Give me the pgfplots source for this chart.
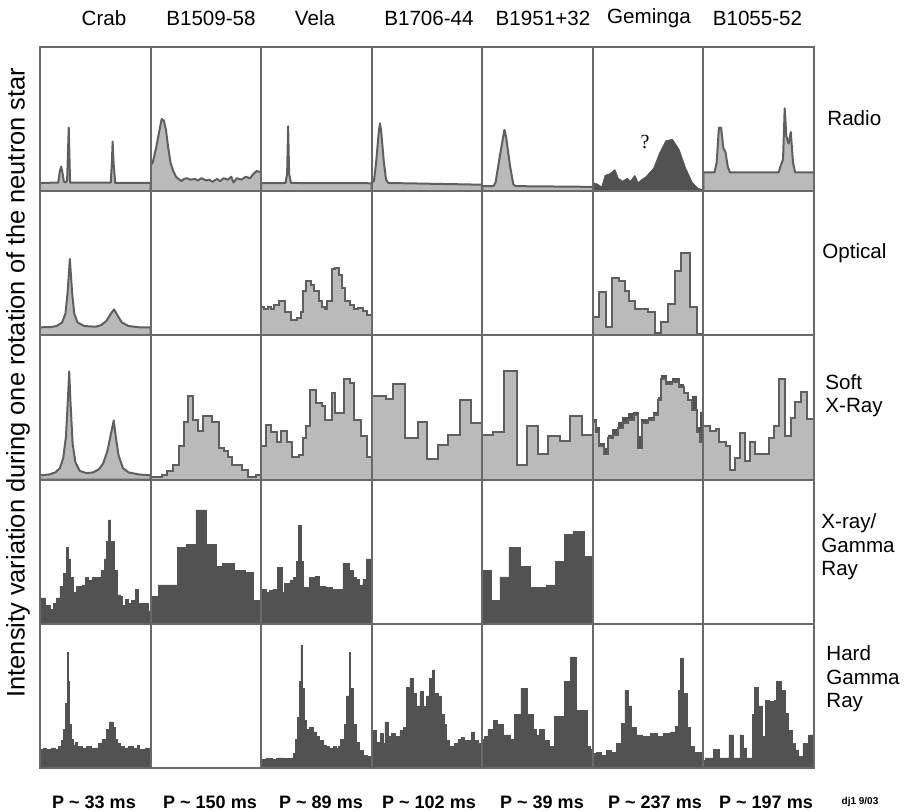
\documentclass[border=0pt]{standalone}
\usepackage{pgfplots}
\pgfplotsset{compat=1.18}
\usepackage{fontspec}
\setmainfont{Liberation Sans}
\newfontfamily\seriffont{Liberation Serif}
\definecolor{lightfill}{RGB}{186,186,186}
\definecolor{outline}{RGB}{95,95,95}
\definecolor{darkfill}{RGB}{82,82,82}
\definecolor{framegray}{RGB}{105,105,105}
\pgfplotsset{
 panel/.style={width=55.286pt,height=72.1pt,scale only axis,anchor=north west,
   xmin=0,xmax=1,ymin=0,ymax=1,ticks=none,axis on top,no marks,
   axis line style={framegray,line width=1pt}},
 pos/.style 2 args={at={({20pt+#1*55.286pt},{-23.5pt-#2*72.1pt})}},
 lc/.style={fill=lightfill,draw=outline,line width=1pt,line join=round},
 lh/.style={const plot,fill=lightfill,draw=outline,line width=1pt},
 dh/.style={const plot,fill=darkfill,draw=darkfill,line width=0.3pt},
 dc/.style={fill=darkfill,draw=darkfill,line width=0.3pt,line join=round},
}
\begin{document}
\begin{tikzpicture}
\path[use as bounding box] (0,0) rectangle (453.5pt,-406pt);
% ---------------- Row 0: Radio
\begin{axis}[panel,pos={0}{0}]
\addplot[lc] coordinates {(0,.057)(.165,.06)(.18,.14)(.192,.17)(.205,.12)(.215,.07)(.225,.06)(.245,.07)(.26,.44)(.272,.06)(.64,.06)(.65,.2)(.657,.345)(.665,.2)(.68,.057)(1,.057)} \closedcycle;
\end{axis}
\begin{axis}[panel,pos={1}{0}]
\addplot[lc] coordinates {(0,.18)(.02,.2)(.05,.3)(.08,.42)(.1,.5)(.12,.49)(.14,.42)(.16,.3)(.18,.2)(.2,.15)(.23,.1)(.26,.08)(.28,.07)(.3,.085)(.33,.09)(.36,.08)(.4,.085)(.43,.075)(.46,.09)(.5,.075)(.53,.08)(.56,.065)(.6,.085)(.63,.07)(.66,.09)(.7,.08)(.73,.1)(.75,.06)(.78,.09)(.82,.08)(.86,.1)(.9,.09)(.93,.12)(.96,.14)(1,.13)} \closedcycle;
\end{axis}
\begin{axis}[panel,pos={2}{0}]
\addplot[lc] coordinates {(0,.055)(.22,.057)(.235,.12)(.244,.45)(.253,.12)(.27,.057)(1,.055)} \closedcycle;
\end{axis}
\begin{axis}[panel,pos={3}{0}]
\addplot[lc] coordinates {(0,.057)(.02,.07)(.04,.2)(.065,.42)(.075,.47)(.085,.42)(.11,.2)(.13,.08)(.15,.057)(1,.045)} \closedcycle;
\end{axis}
\begin{axis}[panel,pos={4}{0}]
\addplot[lc] coordinates {(0,.035)(.1,.035)(.12,.06)(.16,.25)(.2,.425)(.215,.38)(.25,.18)(.28,.05)(.3,.035)(1,.03)} \closedcycle;
\end{axis}
\begin{axis}[panel,pos={5}{0}]
\addplot[dc] coordinates {(0,.06)(.04,.05)(.08,.03)(.11,.11)(.15,.12)(.2,.15)(.23,.09)(.27,.07)(.31,.09)(.34,.07)(.38,.11)(.41,.06)(.44,.08)(.48,.1)(.55,.16)(.6,.26)(.66,.35)(.72,.36)(.78,.29)(.84,.16)(.9,.06)(.95,.02)(1,.01)} \closedcycle;
\end{axis}
\begin{axis}[panel,pos={6}{0}]
\addplot[lc] coordinates {(0,.13)(.1,.13)(.12,.2)(.14,.44)(.16,.44)(.18,.3)(.2,.27)(.22,.17)(.24,.13)(.68,.13)(.7,.18)(.72,.22)(.735,.575)(.75,.38)(.77,.33)(.79,.41)(.81,.2)(.83,.13)(1,.13)} \closedcycle;
\end{axis}
% ---------------- Row 1: Optical
\begin{axis}[panel,pos={0}{1}]
\addplot[lc] coordinates {(0,.056)(.1,.058)(.15,.065)(.2,.09)(.23,.15)(.25,.3)(.27,.53)(.29,.3)(.31,.15)(.34,.09)(.4,.065)(.5,.06)(.55,.07)(.6,.1)(.64,.15)(.67,.18)(.7,.14)(.74,.09)(.8,.065)(.9,.056)(1,.056)} \closedcycle;
\end{axis}
\begin{axis}[panel,pos={1}{1}]
\end{axis}
\begin{axis}[panel,pos={2}{1}]
\addplot[lh] coordinates {(0,.2)(.03,.18)(.06,.2)(.09,.18)(.12,.21)(.16,.24)(.22,.16)(.27,.11)(.32,.12)(.36,.16)(.38,.31)(.41,.38)(.45,.35)(.48,.31)(.52,.24)(.55,.2)(.58,.18)(.6,.24)(.64,.46)(.67,.47)(.7,.42)(.73,.33)(.76,.24)(.8,.21)(.84,.18)(.88,.19)(.92,.17)(.96,.14)(1,.14)} \closedcycle;
\end{axis}
\begin{axis}[panel,pos={3}{1}]
\end{axis}
\begin{axis}[panel,pos={4}{1}]
\end{axis}
\begin{axis}[panel,pos={5}{1}]
\addplot[lh] coordinates {(0,.13)(.055,.3)(.12,.06)(.175,.4)(.24,.38)(.29,.31)(.33,.24)(.38,.18)(.5,.16)(.56,.015)(.62,.09)(.68,.22)(.74,.45)(.8,.57)(.88,.2)(.945,.01)(1,.01)} \closedcycle;
\end{axis}
\begin{axis}[panel,pos={6}{1}]
\end{axis}
% ---------------- Row 2: Soft X-ray
\begin{axis}[panel,pos={0}{2}]
\addplot[lc] coordinates {(0,.03)(.08,.035)(.14,.05)(.18,.08)(.21,.15)(.235,.3)(.255,.6)(.264,.75)(.275,.55)(.295,.25)(.32,.12)(.36,.06)(.42,.045)(.48,.05)(.53,.07)(.57,.11)(.61,.2)(.645,.33)(.667,.41)(.685,.3)(.71,.17)(.75,.08)(.8,.05)(.9,.035)(1,.03)} \closedcycle;
\end{axis}
\begin{axis}[panel,pos={1}{2}]
\addplot[lh] coordinates {(0,.02)(.1,.03)(.15,.06)(.2,.1)(.26,.23)(.3,.4)(.34,.58)(.385,.41)(.43,.34)(.47,.44)(.56,.4)(.62,.22)(.66,.2)(.7,.16)(.74,.1)(.79,.1)(.83,.07)(.88,.015)(.955,.035)(1,.035)} \closedcycle;
\end{axis}
\begin{axis}[panel,pos={2}{2}]
\addplot[lh] coordinates {(0,.23)(.04,.38)(.09,.33)(.14,.26)(.18,.34)(.23,.26)(.28,.16)(.34,.17)(.38,.29)(.41,.37)(.44,.62)(.5,.53)(.55,.51)(.58,.41)(.64,.6)(.67,.46)(.72,.46)(.75,.7)(.8,.67)(.84,.41)(.9,.3)(.96,.16)(1,.16)} \closedcycle;
\end{axis}
\begin{axis}[panel,pos={3}{2}]
\addplot[lh] coordinates {(0,.58)(.13,.56)(.19,.66)(.3,.29)(.42,.4)(.5,.14)(.6,.24)(.69,.31)(.8,.55)(.9,.39)(1,.39)} \closedcycle;
\end{axis}
\begin{axis}[panel,pos={4}{2}]
\addplot[lh] coordinates {(0,.31)(.1,.33)(.2,.75)(.31,.1)(.4,.37)(.5,.18)(.59,.3)(.7,.265)(.79,.44)(.9,.31)(1,.31)} \closedcycle;
\end{axis}
\begin{axis}[panel,pos={5}{2}]
\addplot[dh] coordinates {(0,.42)(.03,.36)(.06,.25)(.1,.22)(.14,.31)(.18,.35)(.23,.4)(.27,.43)(.32,.46)(.37,.47)(.41,.3)(.44,.42)(.5,.43)(.55,.47)(.59,.57)(.62,.72)(.66,.68)(.72,.7)(.78,.66)(.82,.6)(.84,.59)(.86,.55)(.9,.58)(.94,.36)(.97,.47)(1,.47)} \closedcycle;
\addplot[lh] coordinates {(0,.4)(.03,.33)(.06,.23)(.1,.18)(.14,.29)(.18,.31)(.23,.36)(.27,.39)(.32,.41)(.37,.45)(.41,.22)(.44,.39)(.5,.41)(.55,.45)(.59,.55)(.62,.7)(.66,.66)(.72,.68)(.78,.64)(.82,.6)(.86,.55)(.9,.48)(.94,.33)(.97,.26)(1,.26)} \closedcycle;
\end{axis}
\begin{axis}[panel,pos={6}{2}]
\addplot[lh] coordinates {(0,.37)(.06,.34)(.11,.35)(.14,.26)(.2,.23)(.24,.07)(.29,.15)(.33,.32)(.38,.13)(.42,.26)(.47,.18)(.59,.29)(.64,.37)(.68,.7)(.74,.3)(.79,.43)(.83,.54)(.88,.61)(.94,.42)(1,.42)} \closedcycle;
\end{axis}
% ---------------- Row 3: X-ray / Gamma
\begin{axis}[panel,pos={0}{3}]
\addplot[dh] coordinates {(0,.18)(.015,.18)(.045,.125)(.09,.1)(.12,.14)(.15,.18)(.18,.26)(.21,.35)(.24,.53)(.26,.45)(.27,.32)(.3,.22)(.33,.26)(.38,.27)(.41,.32)(.44,.3)(.47,.32)(.52,.32)(.55,.37)(.58,.45)(.6,.57)(.62,.72)(.64,.57)(.67,.37)(.7,.2)(.73,.19)(.74,.125)(.77,.17)(.8,.14)(.83,.16)(.86,.24)(.89,.14)(.92,.14)(.95,.14)(.98,.09)(1,.09)} \closedcycle;
\end{axis}
\begin{axis}[panel,pos={1}{3}]
\addplot[dh] coordinates {(0,.19)(.07,.27)(.24,.53)(.32,.55)(.41,.79)(.5,.55)(.59,.4)(.65,.42)(.76,.37)(.86,.355)(.93,.16)(1,.16)} \closedcycle;
\end{axis}
\begin{axis}[panel,pos={2}{3}]
\addplot[dh] coordinates {(0,.24)(.045,.22)(.076,.23)(.106,.24)(.136,.17)(.15,.39)(.19,.22)(.2,.11)(.21,.28)(.26,.3)(.29,.32)(.32,.435)(.34,.68)(.365,.435)(.38,.25)(.44,.32)(.49,.33)(.53,.26)(.58,.25)(.61,.255)(.64,.24)(.69,.24)(.74,.42)(.8,.37)(.83,.32)(.86,.31)(.89,.27)(.92,.31)(.95,.45)(1,.45)} \closedcycle;
\end{axis}
\begin{axis}[panel,pos={3}{3}]
\end{axis}
\begin{axis}[panel,pos={4}{3}]
\addplot[dh] coordinates {(0,.37)(.08,.16)(.16,.325)(.24,.53)(.34,.4)(.43,.25)(.58,.27)(.66,.435)(.74,.62)(.82,.64)(.92,.47)(1,.47)} \closedcycle;
\end{axis}
\begin{axis}[panel,pos={5}{3}]
\end{axis}
\begin{axis}[panel,pos={6}{3}]
\end{axis}
% ---------------- Row 4: Hard Gamma
\begin{axis}[panel,pos={0}{4}]
\addplot[dh] coordinates {(0,.13)(.03,.14)(.06,.13)(.1,.14)(.14,.13)(.17,.15)(.19,.19)(.21,.27)(.23,.45)(.245,.8)(.255,.6)(.265,.3)(.28,.2)(.3,.16)(.32,.18)(.34,.15)(.38,.14)(.42,.15)(.46,.14)(.5,.14)(.53,.17)(.56,.2)(.6,.27)(.63,.32)(.66,.28)(.68,.2)(.7,.17)(.73,.15)(.76,.14)(.8,.15)(.84,.14)(.88,.16)(.9,.13)(.95,.14)(1,.14)} \closedcycle;
\end{axis}
\begin{axis}[panel,pos={1}{4}]
\end{axis}
\begin{axis}[panel,pos={2}{4}]
\addplot[dh] coordinates {(0,.06)(.05,.065)(.1,.06)(.14,.07)(.2,.065)(.26,.07)(.29,.1)(.31,.2)(.33,.35)(.345,.6)(.36,.85)(.375,.55)(.39,.33)(.41,.27)(.44,.28)(.47,.25)(.5,.22)(.53,.19)(.56,.16)(.59,.15)(.62,.14)(.65,.15)(.68,.14)(.7,.15)(.72,.2)(.75,.3)(.77,.5)(.795,.8)(.81,.55)(.83,.3)(.86,.18)(.89,.12)(.92,.09)(.96,.08)(1,.08)} \closedcycle;
\end{axis}
\begin{axis}[panel,pos={3}{4}]
\addplot[dh] coordinates {(0,.26)(.015,.26)(.045,.18)(.075,.24)(.105,.17)(.12,.32)(.15,.22)(.18,.24)(.21,.22)(.255,.26)(.285,.28)(.315,.56)(.345,.62)(.375,.52)(.405,.43)(.435,.53)(.465,.43)(.495,.5)(.525,.62)(.55,.68)(.57,.52)(.6,.5)(.63,.37)(.66,.3)(.675,.19)(.705,.15)(.75,.17)(.78,.2)(.81,.21)(.84,.19)(.87,.19)(.9,.25)(.93,.19)(.96,.17)(.99,.2)(1,.2)} \closedcycle;
\end{axis}
\begin{axis}[panel,pos={4}{4}]
\addplot[dh] coordinates {(0,.2)(.02,.22)(.05,.27)(.1,.33)(.14,.3)(.19,.23)(.25,.2)(.29,.37)(.35,.55)(.41,.37)(.46,.27)(.49,.23)(.52,.27)(.56,.19)(.61,.15)(.65,.36)(.74,.6)(.8,.77)(.85,.4)(.95,.15)(.98,.13)(1,.13)} \closedcycle;
\end{axis}
\begin{axis}[panel,pos={5}{4}]
\addplot[dh] coordinates {(0,.1)(.03,.11)(.075,.09)(.12,.12)(.17,.11)(.21,.17)(.26,.31)(.29,.54)(.32,.43)(.35,.28)(.39,.23)(.45,.22)(.52,.24)(.58,.22)(.64,.24)(.7,.25)(.745,.29)(.775,.54)(.795,.76)(.82,.52)(.85,.28)(.88,.15)(.92,.11)(.98,.1)(1,.1)} \closedcycle;
\end{axis}
\begin{axis}[panel,pos={6}{4}]
\addplot[dh] coordinates {(0,.05)(.015,.07)(.09,.13)(.14,.07)(.23,.23)(.27,.07)(.33,.23)(.36,.14)(.39,.07)(.44,.37)(.46,.56)(.5,.43)(.53,.22)(.56,.47)(.6,.46)(.64,.47)(.66,.6)(.7,.54)(.74,.38)(.77,.26)(.8,.17)(.83,.125)(.86,.08)(.9,.17)(.95,.23)(1,.23)} \closedcycle;
\end{axis}
% ---------------- Text
\begin{scope}[every node/.style={font=\fontsize{10.3}{12}\selectfont}]
\node at (52pt,-9pt) {Crab};
\node at (105.5pt,-9pt) {B1509-58};
\node at (157.5pt,-9pt) {Vela};
\node at (214.5pt,-9pt) {B1706-44};
\node at (271.5pt,-9pt) {B1951+32};
\node at (324.5pt,-9pt) {Geminga};
\node at (378.75pt,-9pt) {B1055-52};
\end{scope}
\begin{scope}[every node/.style={anchor=west,align=left,inner sep=0pt,font=\fontsize{10.3}{11.8}\selectfont}]
\node at (413.5pt,-59pt) {Radio};
\node at (411pt,-126.5pt) {Optical};
\node at (412.5pt,-197.75pt) {Soft\\X-Ray};
\node at (410.5pt,-273.5pt) {X-ray/\\Gamma\\Ray};
\node at (413pt,-339.5pt) {Hard\\Gamma\\Ray};
\end{scope}
\node[rotate=90,font=\fontsize{12.7}{14}\selectfont] at (9pt,-191.3pt) {Intensity variation during one rotation of the neutron star};
\node[font=\seriffont\fontsize{10}{12}\selectfont] at (322.5pt,-71pt) {?};
\begin{scope}[every node/.style={font=\bfseries\fontsize{9}{10}\selectfont}]
\node at (47pt,-401pt) {P \textasciitilde{} 33 ms};
\node at (105pt,-401pt) {P \textasciitilde{} 150 ms};
\node at (160.5pt,-401pt) {P \textasciitilde{} 89 ms};
\node at (214.5pt,-401pt) {P \textasciitilde{} 102 ms};
\node at (271pt,-401pt) {P \textasciitilde{} 39 ms};
\node at (327.5pt,-401pt) {P \textasciitilde{} 237 ms};
\node at (383pt,-401pt) {P \textasciitilde{} 197 ms};
\end{scope}
\node[font=\bfseries\fontsize{5}{6}\selectfont] at (430pt,-401pt) {dj1 9/03};
\end{tikzpicture}
\end{document}
